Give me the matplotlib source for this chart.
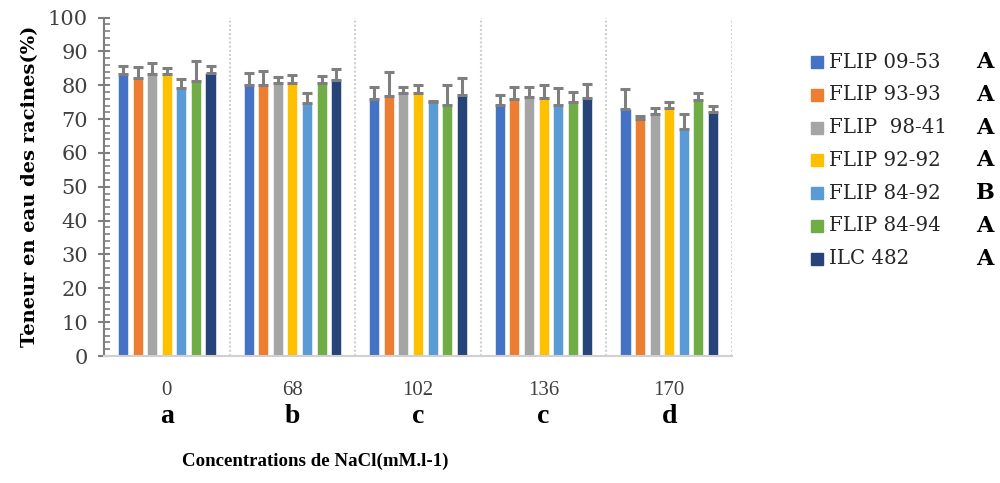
import numpy as np
import matplotlib
matplotlib.use("Agg")
import matplotlib.pyplot as plt
from matplotlib.patches import Rectangle
from matplotlib.ticker import MultipleLocator

# Root water content (%) per genotype under increasing NaCl concentrations
concentrations = ["0", "68", "102", "136", "170"]
conc_groups = ["a", "b", "c", "c", "d"]
genotypes = ["FLIP 09-53", "FLIP 93-93", "FLIP  98-41", "FLIP 92-92",
             "FLIP 84-92", "FLIP 84-94", "ILC 482"]
genotype_groups = ["A", "A", "A", "A", "B", "A", "A"]

flip_09_53 = [83.3, 80.0, 75.8, 74.2, 73.1]
flip_93_93 = [82.2, 80.0, 76.9, 75.8, 70.0]
flip_98_41 = [83.3, 80.6, 77.6, 76.5, 71.6]
flip_92_92 = [83.4, 80.6, 77.6, 76.1, 73.4]
flip_84_92 = [79.2, 74.6, 75.0, 74.2, 67.1]
flip_84_94 = [81.1, 80.6, 74.2, 74.9, 75.7]
ilc_482 = [83.7, 81.5, 77.2, 76.1, 72.0]

err_09_53 = [2.4, 3.5, 3.8, 2.8, 5.7]
err_93_93 = [3.2, 4.3, 6.9, 3.8, 0.8]
err_98_41 = [3.3, 1.7, 2.0, 3.1, 1.6]
err_92_92 = [1.6, 2.4, 2.4, 3.9, 1.6]
err_84_92 = [2.6, 3.1, 0.3, 5.0, 4.5]
err_84_94 = [6.1, 2.0, 5.8, 3.2, 2.0]
err_ilc_482 = [2.0, 3.3, 4.9, 4.3, 1.9]

series = [flip_09_53, flip_93_93, flip_98_41, flip_92_92,
          flip_84_92, flip_84_94, ilc_482]
errors = [err_09_53, err_93_93, err_98_41, err_92_92,
          err_84_92, err_84_94, err_ilc_482]
colors = ["#4472C4", "#ED7D31", "#A5A5A5", "#FFC000",
          "#5B9BD5", "#70AD47", "#264478"]

W, H = 1000, 483
fig = plt.figure(figsize=(W / 100, H / 100), dpi=100)
ax = fig.add_axes([104 / W, 1 - 356 / H, (732 - 104) / W, (356 - 17.5) / H])

x = np.arange(len(concentrations))
pitch = 0.116
width = 0.08
for i, (vals, errs, col) in enumerate(zip(series, errors, colors)):
    xs = x + (i - 3) * pitch
    ax.bar(xs, vals, width=width, color=col, edgecolor="white",
           linewidth=0.4, zorder=2)
    ax.errorbar(xs, vals, yerr=[np.zeros(len(errs)), errs], fmt="none",
                ecolor="#7F7F7F", elinewidth=2.2, capsize=3.8,
                capthick=2.2, zorder=3)

ax.set_xlim(-0.5, len(concentrations) - 0.5)
ax.set_ylim(0, 100)

# category separators
for b in np.arange(0.5, len(concentrations), 1.0):
    ax.axvline(b, color="#D0D0D0", linestyle=(0, (1, 1)), linewidth=1.5,
               zorder=1)

for s in ["top", "right"]:
    ax.spines[s].set_visible(False)
ax.spines["left"].set_color("#7F7F7F")
ax.spines["left"].set_linewidth(1.5)
ax.spines["bottom"].set_color("#D0D0D0")
ax.spines["bottom"].set_linewidth(1.5)

ax.yaxis.set_major_locator(MultipleLocator(10))
ax.yaxis.set_minor_locator(MultipleLocator(2))
ax.tick_params(axis="y", which="major", direction="inout", length=9,
               width=1.5, color="#7F7F7F", pad=7,
               labelsize=15, labelcolor="#404040")
ax.tick_params(axis="y", which="minor", direction="in", length=4,
               width=1.2, color="#7F7F7F")
for lbl in ax.get_yticklabels():
    lbl.set_family("DejaVu Serif")

ax.set_xticks(x)
ax.set_xticklabels(concentrations, family="Liberation Serif", fontsize=15,
                   color="#404040")
ax.tick_params(axis="x", length=0, pad=18)

ax.set_ylabel("Teneur en eau des racines(%)", family="DejaVu Serif",
              fontweight="bold", fontsize=14, labelpad=6)

# letter groups under each concentration
for xi, g in zip(x, conc_groups):
    ax.text(xi, -18.0, g, ha="center", va="center", fontsize=20,
            fontweight="bold", family="Liberation Serif", clip_on=False)

fig.text(315 / W, 1 - 461 / H, "Concentrations de NaCl(mM.l-1)",
         ha="center", va="center", fontsize=13.6, fontweight="bold",
         family="Liberation Serif")

# legend with genotype groups
row0, step = 62, 32.8
for i, (name, col, grp) in enumerate(zip(genotypes, colors, genotype_groups)):
    yc = row0 + i * step
    fig.patches.append(Rectangle((811 / W, 1 - (yc + 6) / H), 12 / W, 12 / H,
                                 transform=fig.transFigure, color=col))
    fig.text(829 / W, 1 - yc / H, name, ha="left", va="center",
             fontsize=14.2, family="DejaVu Serif", color="#262626")
    fig.text(985 / W, 1 - yc / H, grp, ha="center", va="center",
             fontsize=16, fontweight="bold", family="DejaVu Serif",
             color="#000000")

fig.savefig("out.png", dpi=100)
